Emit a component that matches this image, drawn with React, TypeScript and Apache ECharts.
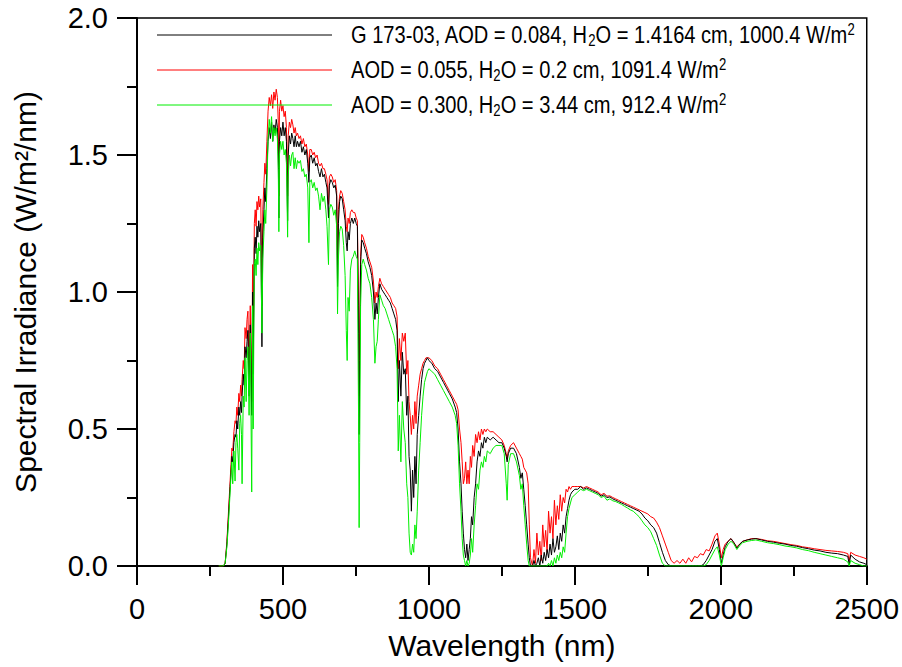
import React, { useEffect, useRef } from 'react';
import * as echarts from 'echarts';

// Wavelength grid (nm)
const wavelength = [
  280, 296, 302, 308, 313, 318, 322, 325, 328, 332,
  336, 339, 342, 345, 349, 352, 355, 358, 360, 364,
  367, 370, 374, 377, 380, 384, 388, 393, 396, 398,
  402, 405, 408, 411, 414, 417, 420, 424, 428, 431,
  435, 438, 441, 445, 449, 453, 457, 461, 465, 469,
  473, 477, 481, 484, 486, 488, 492, 496, 500, 504,
  508, 512, 516, 518, 522, 526, 530, 534, 538, 542,
  546, 550, 555, 560, 565, 570, 575, 580, 585, 589,
  592, 597, 602, 607, 612, 617, 622, 627, 632, 637,
  642, 647, 651, 656, 659, 664, 669, 674, 679, 684,
  687, 690, 694, 698, 703, 708, 713, 717, 720, 723,
  727, 731, 736, 741, 746, 751, 755, 759, 761, 763,
  766, 770, 775, 780, 786, 792, 798, 804, 810, 815,
  819, 823, 827, 832, 838, 844, 850, 856, 862, 868,
  874, 880, 886, 891, 895, 899, 904, 909, 914, 919,
  924, 928, 932, 936, 940, 944, 948, 952, 956, 960,
  965, 970, 975, 980, 985, 990, 995, 1000, 1010, 1020,
  1030, 1040, 1050, 1060, 1070, 1080, 1090, 1095, 1100, 1105,
  1110, 1114, 1118, 1122, 1126, 1130, 1134, 1138, 1142, 1146,
  1150, 1155, 1160, 1165, 1170, 1175, 1180, 1185, 1190, 1195,
  1200, 1210, 1220, 1230, 1240, 1250, 1258, 1265, 1268, 1272,
  1280, 1290, 1300, 1310, 1315, 1320, 1325, 1330, 1335, 1340,
  1344, 1348, 1355, 1360, 1365, 1370, 1375, 1380, 1385, 1390,
  1395, 1400, 1405, 1410, 1415, 1420, 1425, 1430, 1435, 1440,
  1445, 1450, 1455, 1460, 1465, 1470, 1475, 1480, 1485, 1490,
  1500, 1510, 1520, 1530, 1540, 1550, 1560, 1570, 1580, 1590,
  1600, 1610, 1620, 1630, 1640, 1650, 1660, 1670, 1680, 1690,
  1700, 1710, 1720, 1730, 1740, 1750, 1760, 1770, 1780, 1790,
  1800, 1810, 1820, 1830, 1840, 1850, 1860, 1870, 1880, 1890,
  1900, 1910, 1920, 1930, 1940, 1950, 1960, 1970, 1980, 1988,
  1995, 2002, 2008, 2015, 2025, 2035, 2045, 2055, 2065, 2075,
  2090, 2105, 2120, 2140, 2160, 2180, 2200, 2220, 2240, 2260,
  2280, 2300, 2320, 2340, 2360, 2380, 2400, 2420, 2435, 2440,
  2445, 2460, 2475, 2490, 2500,
];

// G 173-03 reference spectrum (black)
const g173 = [
  0, 0, 0.01, 0.08, 0.17, 0.27, 0.34, 0.4, 0.38, 0.45,
  0.48, 0.47, 0.53, 0.5, 0.58, 0.55, 0.6, 0.56, 0.62, 0.7,
  0.66, 0.8, 0.76, 0.82, 0.86, 0.62, 0.88, 0.55, 1.0, 0.7,
  1.16, 1.2, 1.14, 1.24, 1.2, 1.26, 1.22, 1.25, 0.8, 1.2,
  1.3, 1.38, 1.33, 1.45, 1.55, 1.6, 1.56, 1.62, 1.55, 1.61,
  1.58, 1.63, 1.6, 1.5, 1.27, 1.55, 1.6, 1.57, 1.62, 1.57,
  1.6, 1.55, 1.26, 1.5, 1.57, 1.54, 1.58, 1.56, 1.53, 1.57,
  1.53, 1.55, 1.53, 1.55, 1.51, 1.53, 1.5, 1.52, 1.47, 1.4,
  1.49, 1.5, 1.47, 1.49, 1.46, 1.47, 1.44, 1.42, 1.45, 1.42,
  1.43, 1.4, 1.38, 1.27, 1.39, 1.41, 1.4, 1.38, 1.39, 1.35,
  1.02, 1.25, 1.33, 1.35, 1.34, 1.3, 1.26, 1.18, 1.15, 1.22,
  1.19, 1.25, 1.27, 1.25, 1.27, 1.25, 1.24, 0.85, 0.48, 0.75,
  1.1, 1.19, 1.18, 1.16, 1.14, 1.11, 1.09, 1.06, 1.0, 0.9,
  0.96, 0.92, 0.98, 1.03, 1.01, 1.0, 0.99, 0.98, 0.97, 0.96,
  0.94, 0.92, 0.9, 0.86, 0.6, 0.75, 0.62, 0.78, 0.7, 0.72,
  0.55, 0.62, 0.4, 0.35, 0.2, 0.35, 0.25, 0.4, 0.3, 0.48,
  0.55, 0.62, 0.68, 0.72, 0.74, 0.75, 0.76, 0.75, 0.74, 0.72,
  0.71, 0.69, 0.67, 0.65, 0.63, 0.61, 0.58, 0.56, 0.5, 0.38,
  0.3, 0.2, 0.12, 0.06, 0.03, 0.08, 0.02, 0.06, 0.1, 0.18,
  0.15, 0.25, 0.3, 0.38, 0.42, 0.4, 0.45, 0.43, 0.47, 0.45,
  0.47, 0.46, 0.47, 0.46, 0.45, 0.45, 0.43, 0.4, 0.38, 0.41,
  0.43, 0.43, 0.41, 0.36, 0.32, 0.34, 0.28, 0.22, 0.15, 0.08,
  0.03, 0, 0, 0.02, 0, 0.01, 0.03, 0, 0.04, 0.01,
  0.05, 0.02, 0.06, 0.03, 0.08, 0.04, 0.1, 0.05, 0.07, 0.11,
  0.06, 0.12, 0.09, 0.15, 0.12, 0.18, 0.21, 0.24, 0.26, 0.27,
  0.28, 0.28, 0.29, 0.28, 0.285, 0.28, 0.275, 0.27, 0.265, 0.255,
  0.26, 0.25, 0.252, 0.245, 0.24, 0.235, 0.23, 0.225, 0.22, 0.215,
  0.21, 0.205, 0.2, 0.19, 0.175, 0.165, 0.15, 0.14, 0.12, 0.085,
  0.05, 0.02, 0.005, 0, 0, 0, 0, 0, 0, 0,
  0, 0, 0, 0, 0.005, 0.02, 0.04, 0.06, 0.09, 0.1,
  0.06, 0.01, 0.04, 0.07, 0.09, 0.1, 0.085, 0.065, 0.08, 0.09,
  0.095, 0.098, 0.1, 0.095, 0.09, 0.087, 0.083, 0.08, 0.075, 0.072,
  0.067, 0.063, 0.058, 0.055, 0.05, 0.047, 0.045, 0.04, 0.035, 0.005,
  0.04, 0.025, 0.015, 0.01, 0.005,
];

// AOD = 0.055, H2O = 0.2 cm (red)
const dryClear = [
  0, 0, 0.01, 0.09, 0.19, 0.29, 0.37, 0.43, 0.42, 0.49,
  0.53, 0.52, 0.58, 0.55, 0.63, 0.6, 0.66, 0.62, 0.68, 0.75,
  0.72, 0.87, 0.83, 0.9, 0.93, 0.7, 0.95, 0.6, 1.1, 0.75,
  1.25, 1.3, 1.24, 1.33, 1.3, 1.35, 1.31, 1.34, 0.95, 1.3,
  1.4, 1.47, 1.43, 1.55, 1.66, 1.71, 1.68, 1.72, 1.67, 1.73,
  1.7, 1.74, 1.71, 1.62, 1.35, 1.66, 1.7, 1.66, 1.68, 1.64,
  1.66, 1.6, 1.35, 1.57, 1.62, 1.6, 1.63, 1.61, 1.58, 1.6,
  1.57, 1.58, 1.56, 1.57, 1.54, 1.56, 1.53, 1.54, 1.5, 1.44,
  1.52, 1.52, 1.5, 1.51, 1.49, 1.5, 1.47, 1.46, 1.47, 1.45,
  1.45, 1.43, 1.41, 1.32, 1.42, 1.43, 1.42, 1.4, 1.41, 1.37,
  1.1, 1.3, 1.35, 1.37, 1.36, 1.33, 1.3, 1.24, 1.22, 1.27,
  1.25, 1.29, 1.3, 1.29, 1.29, 1.27, 1.26, 0.95, 0.62, 0.85,
  1.13, 1.21, 1.2, 1.18, 1.16, 1.13, 1.11, 1.09, 1.04, 0.96,
  1.0, 0.98, 1.02, 1.05, 1.03, 1.02, 1.01, 1.0, 0.99, 0.98,
  0.96, 0.95, 0.94, 0.91, 0.72, 0.83, 0.75, 0.85, 0.82, 0.85,
  0.7, 0.75, 0.6, 0.55, 0.48, 0.55, 0.5, 0.6, 0.52, 0.62,
  0.66, 0.7, 0.72, 0.74, 0.75, 0.76, 0.76, 0.76, 0.75, 0.73,
  0.72, 0.7, 0.68, 0.66, 0.64, 0.62, 0.6, 0.59, 0.57, 0.5,
  0.45, 0.38, 0.3, 0.32, 0.38, 0.3, 0.35, 0.3, 0.4, 0.36,
  0.44, 0.4, 0.48, 0.45, 0.49, 0.46, 0.5, 0.48, 0.5, 0.49,
  0.5, 0.49, 0.49, 0.48, 0.47, 0.46, 0.44, 0.41, 0.39, 0.42,
  0.44, 0.45, 0.43, 0.41, 0.4, 0.39, 0.36, 0.35, 0.34, 0.3,
  0.15, 0.03, 0, 0.06, 0.01, 0.12, 0.04, 0.09, 0.02, 0.15,
  0.07, 0.13, 0.05, 0.2, 0.12, 0.18, 0.1, 0.24, 0.15, 0.22,
  0.17, 0.26, 0.2, 0.25, 0.23, 0.28, 0.27, 0.29, 0.28, 0.29,
  0.29, 0.29, 0.29, 0.285, 0.29, 0.285, 0.28, 0.275, 0.27, 0.26,
  0.265, 0.255, 0.256, 0.25, 0.245, 0.24, 0.235, 0.23, 0.225, 0.22,
  0.215, 0.21, 0.205, 0.2, 0.195, 0.19, 0.18, 0.175, 0.16, 0.14,
  0.11, 0.08, 0.05, 0.02, 0.01, 0.02, 0.01, 0.025, 0.01, 0.03,
  0.015, 0.035, 0.03, 0.045, 0.04, 0.06, 0.055, 0.08, 0.11, 0.12,
  0.08, 0.03, 0.06, 0.08, 0.09, 0.1, 0.085, 0.07, 0.08, 0.09,
  0.095, 0.1, 0.1, 0.097, 0.092, 0.09, 0.086, 0.082, 0.078, 0.075,
  0.07, 0.067, 0.063, 0.06, 0.057, 0.055, 0.053, 0.05, 0.045, 0.02,
  0.05, 0.04, 0.035, 0.03, 0.025,
];

// AOD = 0.300, H2O = 3.44 cm (green)
const humidHazy = [
  0, 0, 0.01, 0.07, 0.15, 0.25, 0.33, 0.38, 0.3, 0.42,
  0.31, 0.45, 0.48, 0.43, 0.35, 0.52, 0.55, 0.48, 0.3, 0.62,
  0.58, 0.76, 0.6, 0.75, 0.8, 0.55, 0.85, 0.27, 0.95, 0.5,
  1.1, 1.12, 1.06, 1.16, 1.1, 1.18, 1.15, 1.17, 0.85, 1.12,
  1.22, 1.3, 1.25, 1.38, 1.56, 1.63, 1.58, 1.64, 1.55, 1.6,
  1.57, 1.6, 1.56, 1.45, 1.22, 1.5, 1.55, 1.52, 1.55, 1.5,
  1.52, 1.47, 1.2, 1.42, 1.5, 1.46, 1.5, 1.51, 1.45, 1.49,
  1.45, 1.48, 1.47, 1.48, 1.44, 1.45, 1.42, 1.43, 1.38, 1.18,
  1.4, 1.41, 1.38, 1.4, 1.37, 1.38, 1.35, 1.3, 1.36, 1.33,
  1.35, 1.3, 1.24, 1.1, 1.3, 1.32, 1.31, 1.28, 1.3, 1.24,
  0.92, 1.12, 1.22, 1.24, 1.23, 1.17, 1.06, 0.86, 0.75, 0.98,
  0.93, 1.08, 1.12, 1.13, 1.15, 1.13, 1.12, 0.55, 0.14, 0.45,
  0.95, 1.1, 1.12, 1.1, 1.08, 1.05, 1.03, 0.98, 0.9, 0.74,
  0.8, 0.82, 0.9, 0.99, 0.97, 0.95, 0.94, 0.92, 0.9, 0.88,
  0.86, 0.84, 0.8, 0.72, 0.42, 0.55, 0.38, 0.6, 0.5, 0.45,
  0.3, 0.25, 0.12, 0.05, 0.04, 0.08, 0.05, 0.15, 0.1, 0.2,
  0.35, 0.45, 0.55, 0.62, 0.67, 0.69, 0.71, 0.72, 0.71, 0.7,
  0.68, 0.66, 0.64, 0.62, 0.6, 0.58, 0.55, 0.52, 0.44, 0.3,
  0.2, 0.1, 0.04, 0.02, 0, 0.02, 0, 0.01, 0.04, 0.1,
  0.05, 0.15, 0.22, 0.3, 0.28, 0.35, 0.38, 0.36, 0.4, 0.38,
  0.42, 0.41, 0.43, 0.44, 0.44, 0.44, 0.41, 0.3, 0.24, 0.37,
  0.41, 0.41, 0.38, 0.33, 0.28, 0.3, 0.22, 0.15, 0.08, 0.02,
  0, 0, 0, 0, 0, 0, 0, 0, 0, 0,
  0, 0, 0, 0.01, 0, 0.02, 0, 0.03, 0.01, 0.04,
  0.02, 0.05, 0.03, 0.07, 0.05, 0.12, 0.18, 0.21, 0.23, 0.25,
  0.26, 0.27, 0.28, 0.275, 0.28, 0.275, 0.27, 0.265, 0.26, 0.25,
  0.255, 0.24, 0.245, 0.238, 0.235, 0.23, 0.225, 0.218, 0.212, 0.205,
  0.2, 0.19, 0.18, 0.165, 0.15, 0.14, 0.125, 0.1, 0.075, 0.04,
  0.01, 0, 0, 0, 0, 0, 0, 0, 0, 0,
  0, 0, 0, 0, 0, 0.005, 0.02, 0.04, 0.06, 0.07,
  0.04, 0, 0.03, 0.06, 0.08, 0.09, 0.08, 0.06, 0.075, 0.085,
  0.09, 0.093, 0.095, 0.09, 0.085, 0.082, 0.078, 0.073, 0.07, 0.066,
  0.06, 0.056, 0.05, 0.045, 0.04, 0.035, 0.03, 0.025, 0.015, 0,
  0.02, 0.01, 0.005, 0, 0,
];

const seriesNames = [
  'G 173-03, AOD = 0.084, H2O = 1.4164 cm, 1000.4 W/m2',
  'AOD = 0.055, H2O = 0.2 cm, 1091.4 W/m2',
  'AOD = 0.300, H2O = 3.44 cm, 912.4 W/m2',
];
const legendRichText = [
  '{t|G 173-03, AOD = 0.084, H}{sub|2}{t|O = 1.4164 cm, 1000.4 W/m}{sup|2}',
  '{t|AOD = 0.055, H}{sub|2}{t|O = 0.2 cm, 1091.4 W/m}{sup|2}',
  '{t|AOD = 0.300, H}{sub|2}{t|O = 3.44 cm, 912.4 W/m}{sup|2}',
];
const seriesColors = ['#000000', '#ff0000', '#00ee00'];

const xAxisTitle = 'Wavelength (nm)';
const yAxisTitle = 'Spectral Irradiance (W/m²/nm)';

const FONT = "'Liberation Sans', Arial, Helvetica, sans-serif";

export default function App() {
  const ref = useRef<HTMLDivElement>(null);
  useEffect(() => {
    const chart = echarts.init(ref.current as HTMLDivElement, null, { renderer: 'svg' });
    const toPairs = (ys: number[]) => wavelength.map((w, i) => [w, ys[i]]);
    const allData = [g173, dryClear, humidHazy];
    const drawOrder = [1, 0, 2];

    // Legend drawn as graphic: sample line + condensed rich text
    const legendRowY = [35, 70, 105];
    const legendGraphic: any[] = [];
    seriesNames.forEach((_, k) => {
      legendGraphic.push({
        type: 'line',
        shape: { x1: 157, y1: legendRowY[k], x2: 332, y2: legendRowY[k] },
        style: { stroke: seriesColors[k], lineWidth: 1 },
        silent: true,
        z: 10,
      });
      legendGraphic.push({
        type: 'text',
        x: 351,
        y: legendRowY[k],
        scaleX: 0.82,
        style: {
          text: legendRichText[k],
          fill: '#000',
          fontFamily: FONT,
          fontSize: 24.5,
          verticalAlign: 'middle',
          align: 'left',
          rich: {
            t: { fontFamily: FONT, fontSize: 24.5, fill: '#000', lineHeight: 28 },
            sub: { fontFamily: FONT, fontSize: 16, fill: '#000', padding: [12, 0, 0, 0] },
            sup: { fontFamily: FONT, fontSize: 16, fill: '#000', padding: [0, 0, 10, 0] },
          },
        },
        silent: true,
        z: 10,
      });
    });

    chart.setOption({
      animation: false,
      backgroundColor: '#ffffff',
      grid: {
        left: 137, right: 35, top: 18, bottom: 101,
        show: true, borderColor: '#000', borderWidth: 1.5, backgroundColor: 'transparent',
      },
      graphic: legendGraphic,
      xAxis: {
        type: 'value',
        min: 0, max: 2500, interval: 500,
        name: xAxisTitle,
        nameLocation: 'middle',
        nameGap: 64,
        nameTextStyle: { fontFamily: FONT, fontSize: 30, color: '#000' },
        axisLine: { lineStyle: { color: '#000', width: 2 } },
        axisTick: { length: 19, lineStyle: { color: '#000', width: 2 } },
        minorTick: { show: true, splitNumber: 2, length: 10, lineStyle: { color: '#000', width: 2 } },
        axisLabel: {
          fontFamily: FONT, fontSize: 29, color: '#000', margin: 28,
          formatter: (v: number) => String(v),
        },
        splitLine: { show: false },
        minorSplitLine: { show: false },
      },
      yAxis: {
        type: 'value',
        min: 0, max: 2, interval: 0.5,
        name: yAxisTitle,
        nameLocation: 'middle',
        nameGap: 97,
        nameTextStyle: { fontFamily: FONT, fontSize: 30, color: '#000' },
        axisLine: { show: true, lineStyle: { color: '#000', width: 2 } },
        axisTick: { show: true, length: 20, lineStyle: { color: '#000', width: 2 } },
        minorTick: { show: true, splitNumber: 2, length: 10, lineStyle: { color: '#000', width: 2 } },
        axisLabel: {
          fontFamily: FONT, fontSize: 29, color: '#000', margin: 29,
          formatter: (v: number) => v.toFixed(1),
        },
        splitLine: { show: false },
        minorSplitLine: { show: false },
      },
      series: drawOrder.map((k) => ({
        name: seriesNames[k],
        type: 'line',
        data: toPairs(allData[k]),
        showSymbol: false,
        symbol: 'none',
        lineStyle: { color: seriesColors[k], width: 1 },
        itemStyle: { color: seriesColors[k] },
        emphasis: { disabled: true },
        z: 2,
      })),
    });
    return () => chart.dispose();
  }, []);
  return (
    <div
      ref={ref}
      style={{ position: 'fixed', left: 0, top: 0, width: 902, height: 667, background: '#fff' }}
    />
  );
}
